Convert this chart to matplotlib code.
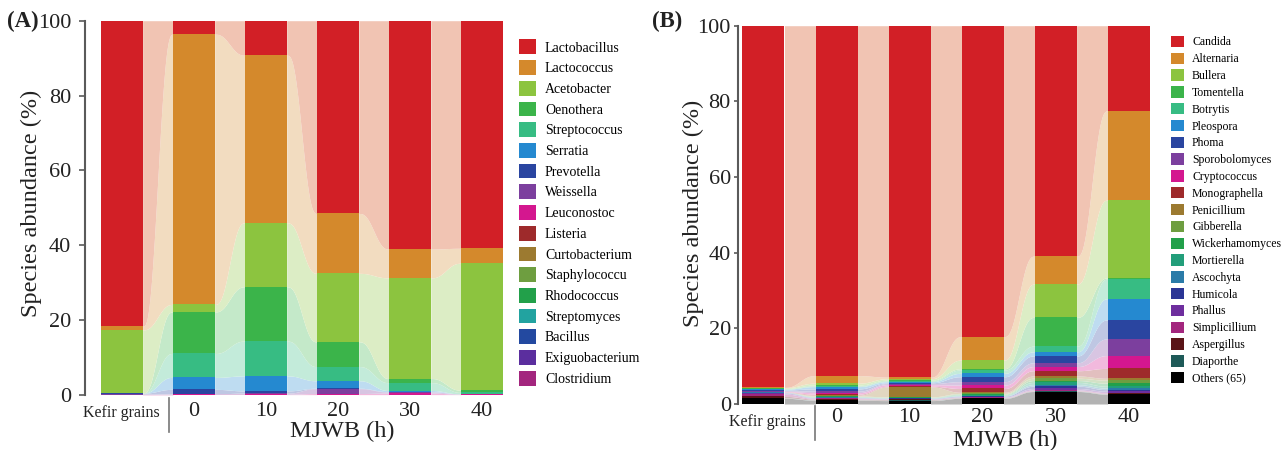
import numpy as np
import matplotlib
matplotlib.use("Agg")
import matplotlib.pyplot as plt
from matplotlib.patches import Patch
import matplotlib.transforms as mtransforms
from matplotlib.colors import to_rgb

plt.rcParams['font.family'] = ['Liberation Serif', 'DejaVu Serif']

# ---------------- data ----------------
groups = ["Kefir grains", "0", "10", "20", "30", "40"]

# Panel A (bacteria), % abundance for Kefir grains, 0, 10, 20, 30, 40 h
bact_names = ["Lactobacillus", "Lactococcus", "Acetobacter", "Oenothera", "Streptococcus",
              "Serratia", "Prevotella", "Weissella", "Leuconostoc", "Listeria",
              "Curtobacterium", "Staphylococcu", "Rhodococcus", "Streptomyces",
              "Bacillus", "Exiguobacterium", "Clostridium"]
lactobacillus = [81.6, 3.6, 9.2, 51.5, 61.0, 60.8]
lactococcus = [1.0, 72.2, 44.8, 16.0, 7.7, 4.0]
acetobacter = [16.9, 2.0, 17.1, 18.3, 26.9, 33.9]
oenothera = [0.0, 11.1, 14.5, 6.6, 1.1, 0.6]
streptococcus = [0.0, 6.4, 9.3, 3.8, 2.1, 0.4]
serratia = [0.0, 3.2, 4.0, 2.0, 0.3, 0.0]
prevotella = [0.2, 1.2, 0.6, 0.1, 0.1, 0.0]
weissella = [0.2, 0.1, 0.3, 1.3, 0.3, 0.1]
leuconostoc = [0.1, 0.1, 0.1, 0.3, 0.4, 0.1]
listeria = [0.0, 0.0, 0.0, 0.0, 0.0, 0.0]
curtobacterium = [0.0, 0.0, 0.0, 0.0, 0.0, 0.0]
staphylococcu = [0.0, 0.0, 0.0, 0.0, 0.0, 0.0]
rhodococcus = [0.0, 0.0, 0.0, 0.0, 0.0, 0.0]
streptomyces = [0.0, 0.0, 0.0, 0.0, 0.0, 0.0]
bacillus = [0.0, 0.0, 0.0, 0.0, 0.0, 0.0]
exiguobacterium = [0.0, 0.0, 0.0, 0.0, 0.0, 0.0]
clostridium = [0.0, 0.1, 0.1, 0.1, 0.1, 0.1]
bact_values = [lactobacillus, lactococcus, acetobacter, oenothera, streptococcus,
               serratia, prevotella, weissella, leuconostoc, listeria,
               curtobacterium, staphylococcu, rhodococcus, streptomyces,
               bacillus, exiguobacterium, clostridium]

# Panel B (fungi)
fung_names = ["Candida", "Alternaria", "Bullera", "Tomentella", "Botrytis", "Pleospora",
              "Phoma", "Sporobolomyces", "Cryptococcus", "Monographella", "Penicillium",
              "Gibberella", "Wickerhamomyces", "Mortierella", "Ascochyta", "Humicola",
              "Phallus", "Simplicillium", "Aspergillus", "Diaporthe", "Others (65)"]
candida = [95.6, 92.5, 92.9, 82.2, 60.9, 22.5]
alternaria = [0.1, 2.0, 0.4, 6.2, 7.4, 23.6]
bullera = [0.2, 0.5, 0.4, 2.3, 8.8, 20.6]
tomentella = [0.1, 0.2, 0.2, 0.3, 7.6, 0.3]
botrytis = [0.1, 0.2, 0.2, 0.9, 1.5, 5.2]
pleospora = [0.2, 0.6, 0.3, 0.9, 1.1, 5.6]
phoma = [0.2, 0.6, 0.2, 1.3, 1.8, 5.0]
sporobolomyces = [0.2, 0.4, 0.3, 0.9, 1.0, 4.4]
cryptococcus = [0.1, 0.4, 0.4, 0.9, 1.1, 3.4]
monographella = [0.1, 0.3, 0.2, 1.0, 1.4, 2.6]
penicillium = [0.0, 0.2, 2.6, 0.3, 0.6, 0.5]
gibberella = [0.0, 0.1, 0.1, 0.2, 0.6, 0.8]
wickerhamomyces = [0.0, 0.1, 0.1, 0.2, 0.5, 0.8]
mortierella = [0.0, 0.1, 0.1, 0.2, 0.6, 0.5]
ascochyta = [0.1, 0.1, 0.1, 0.1, 0.4, 0.4]
humicola = [0.1, 0.1, 0.1, 0.2, 0.6, 0.4]
phallus = [0.3, 0.1, 0.1, 0.1, 0.4, 0.4]
simplicillium = [0.6, 0.2, 0.1, 0.1, 0.2, 0.2]
aspergillus = [0.4, 0.2, 0.2, 0.1, 0.1, 0.1]
diaporthe = [0.1, 0.1, 0.1, 0.1, 0.1, 0.1]
others = [1.5, 1.0, 0.9, 1.5, 3.3, 2.6]
fung_values = [candida, alternaria, bullera, tomentella, botrytis, pleospora, phoma,
               sporobolomyces, cryptococcus, monographella, penicillium, gibberella,
               wickerhamomyces, mortierella, ascochyta, humicola, phallus,
               simplicillium, aspergillus, diaporthe, others]

bact_colors = ["#D21F26", "#D4892C", "#8CC43F", "#3BB44A", "#37BC83", "#2589D0",
               "#2A45A0", "#7C3F9E", "#D4178F", "#9E2A2B", "#9C7A30", "#6E9E40",
               "#22A04A", "#22A3A0", "#2349A0", "#5B2E9E", "#A3267E"]
fung_colors = ["#D21F26", "#D4892C", "#8CC43F", "#3BB44A", "#37BC83", "#2589D0",
               "#2A45A0", "#7C3F9E", "#D4178F", "#9E2A2B", "#9C7A30", "#6E9E40",
               "#22A04A", "#229E7A", "#2A7BA8", "#2B3595", "#6E2E9E", "#A3267E",
               "#5A1518", "#1E5A58", "#000000"]
top_flow_color = "#F1C4B3"   # pale salmon used for the dominant (red) stream


def smoother(t):
    t = np.clip(t, 0, 1)
    return t * t * t * (t * (6 * t - 15) + 10)


def pale(c, a=0.3):
    r = np.array(to_rgb(c))
    return tuple(1 - a + a * r)


def alluvial(ax, values, colors, width):
    vals = np.array(values, dtype=float)  # series x groups, legend order (top first)
    n_groups = vals.shape[1]
    x = np.arange(n_groups)
    stack = vals[::-1]            # bottom first
    cols = colors[::-1]
    flow_cols = [pale(c) for c in cols]
    flow_cols[-1] = top_flow_color
    bottoms = np.vstack([np.zeros(n_groups), np.cumsum(stack, axis=0)[:-1]])
    tops = bottoms + stack
    for k in range(stack.shape[0]):
        for i in range(n_groups - 1):
            xx = np.linspace(x[i] + width / 2, x[i + 1] - width / 2, 80)
            s = smoother((xx - xx[0]) / (xx[-1] - xx[0]))
            lo = bottoms[k, i] + (bottoms[k, i + 1] - bottoms[k, i]) * s
            hi = tops[k, i] + (tops[k, i + 1] - tops[k, i]) * s
            ax.fill_between(xx, lo, hi, color=flow_cols[k], lw=0, zorder=1)
    for k in range(stack.shape[0]):
        ax.bar(x, stack[k], bottom=bottoms[k], width=width, color=cols[k],
               lw=0, zorder=3)


fig = plt.figure(figsize=(12.88, 4.5), dpi=100)
W, H = 1288.0, 450.0


def style_axes(ax, sep_x, sep_y0, sep_y1, mj_x, mj_y, ylab_x, ylab_y,
               tick_len, tick_pad, xpad, kefir_dx, kefir_pad):
    ax.set_ylim(0, 100)
    ax.set_yticks([0, 20, 40, 60, 80, 100])
    for s in ["top", "right", "bottom"]:
        ax.spines[s].set_visible(False)
    ax.spines["left"].set_color("#5a5a5a")
    ax.spines["left"].set_linewidth(1.5)
    ax.tick_params(axis="y", length=tick_len, width=1.2, color="#5a5a5a",
                   labelsize=16, pad=tick_pad, labelcolor="#222222")
    ax.set_xticks(range(len(groups)))
    ax.set_xticklabels(groups)
    ax.tick_params(axis="x", length=0, labelsize=16, pad=xpad, labelcolor="#222222")
    k = ax.get_xticklabels()[0]
    k.set_fontsize(11.5)
    off = mtransforms.ScaledTranslation(kefir_dx / 72, -kefir_pad / 72, fig.dpi_scale_trans)
    k.set_transform(k.get_transform() + off)
    ax.set_ylabel("Species abundance (%)", fontsize=17.5, color="#222222")
    ax.yaxis.set_label_coords(ylab_x, ylab_y)
    tr = mtransforms.blended_transform_factory(ax.transData, ax.transAxes)
    ax.plot([sep_x, sep_x], [sep_y0, sep_y1], transform=tr, color="#777777",
            lw=1.2, clip_on=False)
    ax.text(mj_x, mj_y, "MJWB (h)", transform=tr, ha="center", va="center",
            fontsize=17.5, color="#222222")
    ax.set_facecolor("none")


# Panel A
axA = fig.add_axes([85 / W, (H - 395) / H, 420 / W, (395 - 20.7) / H])
alluvial(axA, bact_values, bact_colors, 0.58)
axA.set_xlim(-0.51, 5.32)
style_axes(axA, 0.65, -0.008, -0.099, 3.06, -0.098, -0.103, 0.512, 4, 6, 5, 0, 2)

# Panel B
axB = fig.add_axes([737.7 / W, (H - 404) / H, 414.3 / W, (404 - 25.7) / H])
alluvial(axB, fung_values, fung_colors, 0.575)
axB.set_xlim(-0.353, 5.32)
style_axes(axB, 0.705, -0.005, -0.095, 3.31, -0.096, -0.081, 0.505, 3, 2, 3, 3, 4)

# Panel letters
fig.text(23 / W, 1 - 21 / H, "(A)", fontsize=16.5, fontweight="bold", ha="center",
         va="center", color="#222222")
fig.text(667 / W, 1 - 21 / H, "(B)", fontsize=16.5, fontweight="bold", ha="center",
         va="center", color="#222222")

# Legends
hA = [Patch(facecolor=c, edgecolor="none") for c in bact_colors]
fig.legend(hA, bact_names, loc="upper left",
           bbox_to_anchor=(519 / W, 1 - 39.5 / H), bbox_transform=fig.transFigure,
           frameon=False, fontsize=10, handlelength=1.25, handleheight=1.25,
           labelspacing=0.41, handletextpad=0.62, borderpad=0, borderaxespad=0)
hB = [Patch(facecolor=c, edgecolor="none") for c in fung_colors]
fig.legend(hB, fung_names, loc="upper left",
           bbox_to_anchor=(1171 / W, 1 - 35.8 / H), bbox_transform=fig.transFigure,
           frameon=False, fontsize=8.5, handlelength=1.1, handleheight=1.1,
           labelspacing=0.35, handletextpad=0.68, borderpad=0, borderaxespad=0)

fig.savefig("out.png", dpi=100)
